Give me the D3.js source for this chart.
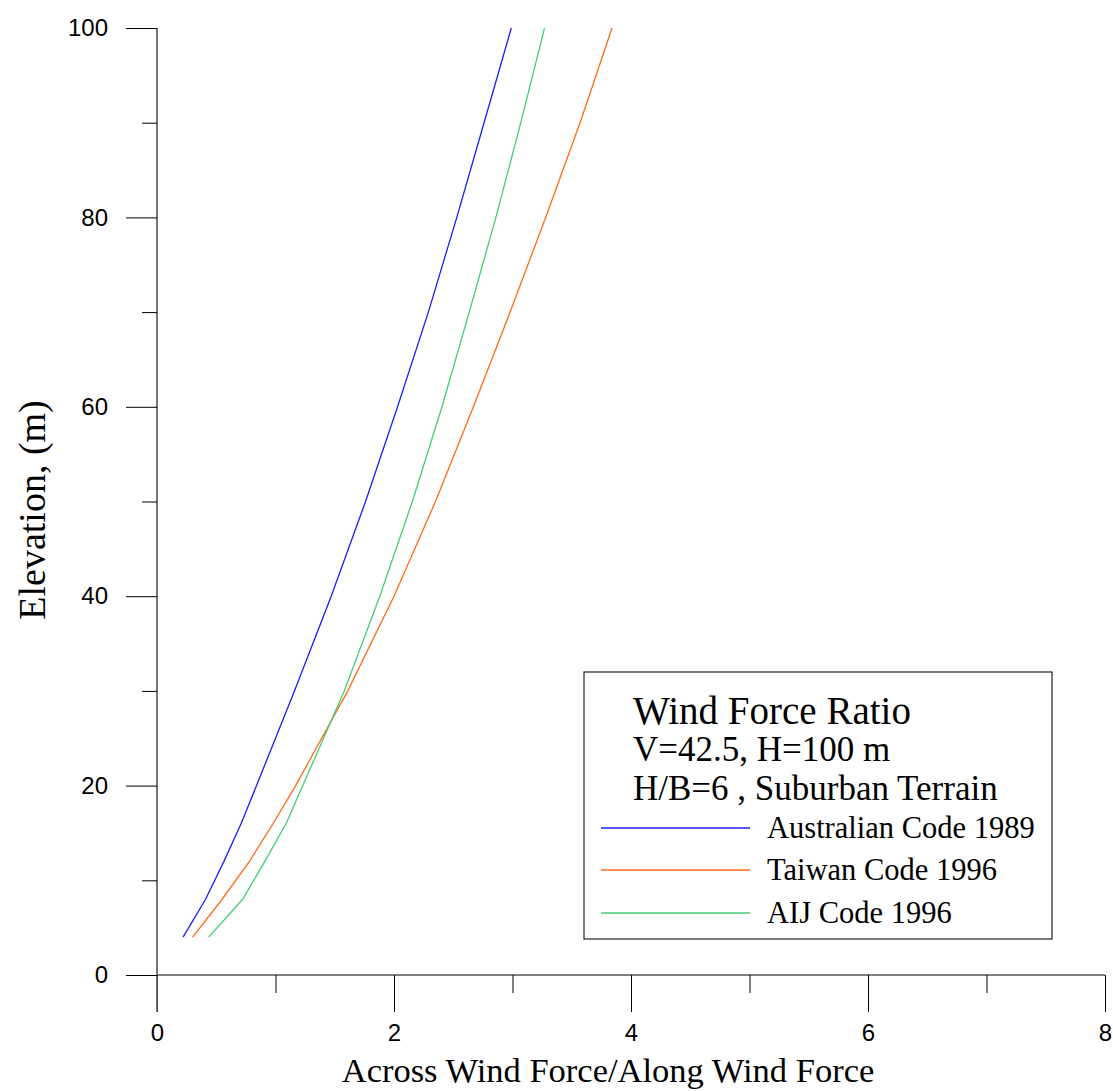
<!DOCTYPE html>
<html>
<head>
<meta charset="utf-8">
<script src="https://cdn.jsdelivr.net/npm/d3@7/dist/d3.min.js"></script>
<style>
  html, body { margin: 0; padding: 0; background: #fff; }
  svg { display: block; }
</style>
</head>
<body>
<svg id="chart" width="1113" height="1091"></svg>
<script>
// ---- data ----
const elevation  = [4, 8, 12, 16, 20, 30, 40, 50, 60, 70, 80, 90, 100];
const australian = [0.22, 0.41, 0.565, 0.71, 0.84, 1.16, 1.47, 1.76, 2.03, 2.29, 2.53, 2.76, 2.99];
const taiwan     = [0.30, 0.55, 0.78, 0.98, 1.17, 1.61, 2.00, 2.35, 2.67, 2.98, 3.28, 3.57, 3.84];
const aij        = [0.436, 0.723, 0.91, 1.09, 1.23, 1.58, 1.88, 2.155, 2.405, 2.635, 2.86, 3.07, 3.27];

const seriesNames = ["Australian Code 1989", "Taiwan Code 1996", "AIJ Code 1996"];
const seriesColors = ["#1c1cff", "#ff6a1a", "#44cc77"];
const xMajorTicks = [0, 2, 4, 6, 8];
const xMinorTicks = [1, 3, 5, 7];
const yMajorTicks = [0, 20, 40, 60, 80, 100];
const yMinorTicks = [10, 30, 50, 70, 90];
const titleLines = ["Wind Force Ratio", "V=42.5, H=100 m", "H/B=6 , Suburban Terrain"];
const xTitle = "Across Wind Force/Along Wind Force";
const yTitle = "Elevation, (m)";

// ---- layout ----
const svg = d3.select("#chart");
const x = d3.scaleLinear().domain([0, 8]).range([157, 1105]);
const y = d3.scaleLinear().domain([0, 100]).range([975, 28]);
const sansFont = "'Liberation Sans', Arial, sans-serif";
const serifFont = "'Liberation Serif', 'Times New Roman', serif";

// x axis (ticks downward)
const gx = svg.append("g").attr("transform", `translate(0,${y(0)})`);
gx.call(d3.axisBottom(x).tickValues(xMajorTicks).tickSize(37).tickPadding(40).tickFormat(d3.format("d")));
gx.append("g").call(d3.axisBottom(x).tickValues(xMinorTicks).tickSize(18).tickFormat(""))
  .select(".domain").remove();
gx.selectAll(".domain").attr("stroke", "#555").attr("stroke-width", 1.6).attr("d", `M${x(0)},0H${x(8)}`);
gx.selectAll(".tick line").attr("stroke", "#000").attr("stroke-width", 1);
gx.selectAll(".tick text").attr("font-family", sansFont).attr("font-size", 24).attr("fill", "#000")
  .attr("dy", "0.35em").attr("y", 58);

// y axis (ticks to the left)
const gy = svg.append("g").attr("transform", `translate(${x(0)},0)`);
gy.call(d3.axisLeft(y).tickValues(yMajorTicks).tickSize(31).tickPadding(18).tickFormat(d3.format("d")));
gy.append("g").call(d3.axisLeft(y).tickValues(yMinorTicks).tickSize(15).tickFormat(""))
  .select(".domain").remove();
gy.selectAll(".domain").attr("stroke", "#555").attr("stroke-width", 1.6).attr("d", `M0,${y(100)}V${y(0) + 37}`);
gy.selectAll(".tick line").attr("stroke", "#000").attr("stroke-width", 1);
gy.selectAll(".tick text").attr("font-family", sansFont).attr("font-size", 24).attr("fill", "#000");

// axis titles
svg.append("text").attr("x", 608).attr("y", 1082).attr("text-anchor", "middle")
  .attr("font-family", serifFont).attr("font-size", 34.5).text(xTitle);
svg.append("text").attr("transform", "translate(45,510) rotate(-90)").attr("text-anchor", "middle")
  .attr("font-family", serifFont).attr("font-size", 38).text(yTitle);

// curves
const allSeries = [australian, taiwan, aij];
const line = d3.line().x(d => x(d[0])).y(d => y(d[1]));
allSeries.forEach((vals, i) => {
  svg.append("path")
    .datum(vals.map((v, k) => [v, elevation[k]]))
    .attr("fill", "none")
    .attr("stroke", seriesColors[i])
    .attr("stroke-width", 1.3)
    .attr("d", line);
});

// legend
const lg = svg.append("g");
lg.append("rect").attr("x", 584).attr("y", 672).attr("width", 468).attr("height", 267)
  .attr("fill", "#fff").attr("stroke", "#222").attr("stroke-width", 1.2);
const titleSizes = [39, 35, 35];
const titleY = [724, 761, 800];
titleLines.forEach((t, i) => {
  lg.append("text").attr("x", 633).attr("y", titleY[i]).attr("font-family", serifFont)
    .attr("font-size", titleSizes[i]).attr("fill", "#000").text(t);
});
const itemY = [828, 870, 913];
seriesNames.forEach((n, i) => {
  lg.append("line").attr("x1", 601).attr("x2", 750).attr("y1", itemY[i]).attr("y2", itemY[i])
    .attr("stroke", seriesColors[i]).attr("stroke-width", 1.3);
  lg.append("text").attr("x", 767).attr("y", itemY[i] + 10).attr("font-family", serifFont)
    .attr("font-size", 30.5).attr("fill", "#000").text(n);
});
</script>
</body>
</html>
